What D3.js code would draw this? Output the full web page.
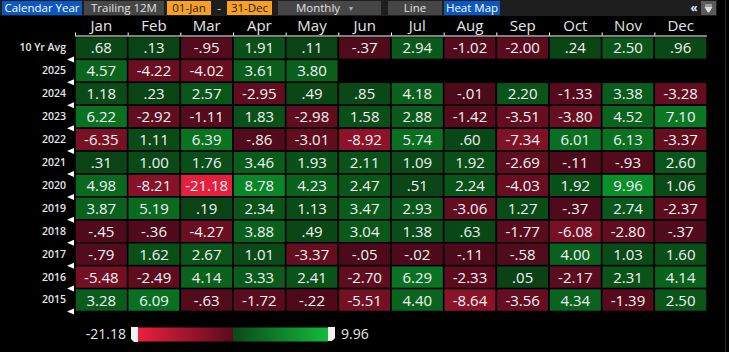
<!DOCTYPE html>
<html lang="en">
<head>
    <meta charset="UTF-8" />
    <title>Heat Map</title>
    <script src="https://d3js.org/d3.v7.min.js"></script>
    <style>
        body { margin: 0; background: #000; }
        svg { display: block; }
        text { font-family: "Open Sans", sans-serif; }
    </style>
</head>
<body>
    <div id="chart"></div>
    <script>
        var w = 729;
        var h = 352;

        var months = ["Jan", "Feb", "Mar", "Apr", "May", "Jun", "Jul", "Aug", "Sep", "Oct", "Nov", "Dec"];
        var rowLabels = ["10 Yr Avg", "2025", "2024", "2023", "2022", "2021", "2020", "2019", "2018", "2017", "2016", "2015"];

        var avg10 = [0.68, 0.13, -0.95, 1.91, 0.11, -0.37, 2.94, -1.02, -2.00, 0.24, 2.50, 0.96];
        var y2025 = [4.57, -4.22, -4.02, 3.61, 3.80];
        var y2024 = [1.18, 0.23, 2.57, -2.95, 0.49, 0.85, 4.18, -0.01, 2.20, -1.33, 3.38, -3.28];
        var y2023 = [6.22, -2.92, -1.11, 1.83, -2.98, 1.58, 2.88, -1.42, -3.51, -3.80, 4.52, 7.10];
        var y2022 = [-6.35, 1.11, 6.39, -0.86, -3.01, -8.92, 5.74, 0.60, -7.34, 6.01, 6.13, -3.37];
        var y2021 = [0.31, 1.00, 1.76, 3.46, 1.93, 2.11, 1.09, 1.92, -2.69, -0.11, -0.93, 2.60];
        var y2020 = [4.98, -8.21, -21.18, 8.78, 4.23, 2.47, 0.51, 2.24, -4.03, 1.92, 9.96, 1.06];
        var y2019 = [3.87, 5.19, 0.19, 2.34, 1.13, 3.47, 2.93, -3.06, 1.27, -0.37, 2.74, -2.37];
        var y2018 = [-0.45, -0.36, -4.27, 3.88, 0.49, 3.04, 1.38, 0.63, -1.77, -6.08, -2.80, -0.37];
        var y2017 = [-0.79, 1.62, 2.67, 1.01, -3.37, -0.05, -0.02, -0.11, -0.58, 4.00, 1.03, 1.60];
        var y2016 = [-5.48, -2.49, 4.14, 3.33, 2.41, -2.70, 6.29, -2.33, 0.05, -2.17, 2.31, 4.14];
        var y2015 = [3.28, 6.09, -0.63, -1.72, -0.22, -5.51, 4.40, -8.64, -3.56, 4.34, -1.39, 2.50];

        var rows = [avg10, y2025, y2024, y2023, y2022, y2021, y2020, y2019, y2018, y2017, y2016, y2015];

        var svg = d3.select("#chart")
            .append("svg")
            .attr("width", w)
            .attr("height", h);

        // toolbar across the top
        function button(x, width, label, fill, color) {
            svg.append("rect")
                .attr("x", x).attr("y", 1)
                .attr("width", width).attr("height", 14)
                .attr("fill", fill);
            svg.append("text")
                .attr("x", x + width / 2).attr("y", 11.5)
                .attr("text-anchor", "middle")
                .attr("fill", color)
                .style("font-size", "11.5px")
                .text(label);
        }

        svg.append("rect")
            .attr("x", 0).attr("y", 0)
            .attr("width", 717).attr("height", 16)
            .attr("fill", "#1e1e1e");
        button(2, 80, "Calendar Year", "#0b58c4", "#ffffff");
        button(84, 80, "Trailing 12M", "#464646", "#e0e0e0");
        button(167, 44, "01-Jan", "#f7a021", "#1a1a1a");
        svg.append("text").attr("x", 219).attr("y", 11.5).attr("text-anchor", "middle")
            .attr("fill", "#e0e0e0").style("font-size", "11.5px").text("-");
        button(227, 45, "31-Dec", "#f7a021", "#1a1a1a");
        button(278, 103, "", "#464646", "#e0e0e0");
        svg.append("text").attr("x", 318).attr("y", 11.5).attr("text-anchor", "middle")
            .attr("fill", "#e0e0e0").style("font-size", "11.5px").text("Monthly");
        svg.append("text").attr("x", 351).attr("y", 11).attr("text-anchor", "middle")
            .attr("fill", "#aaaaaa").style("font-size", "7px").text("\u25BC");
        button(388, 54, "Line", "#464646", "#e0e0e0");
        button(444, 56, "Heat Map", "#0b58c4", "#ffffff");
        svg.append("text").attr("x", 694).attr("y", 11.5).attr("text-anchor", "middle")
            .attr("fill", "#dfe8ff").style("font-size", "11.5px").style("font-weight", "bold").text("\u00AB");
        svg.append("rect").attr("x", 701).attr("y", 1).attr("width", 15).attr("height", 14).attr("fill", "#5a5a5a");
        svg.append("path").attr("d", "M705,5 h7 M705,7 h7 L709,12 L708,12 Z").attr("stroke", "#dddddd").attr("fill", "#dddddd");
        svg.append("line").attr("x1", 725.5).attr("x2", 725.5).attr("y1", 0).attr("y2", h)
            .attr("stroke", "#2a2a2a");

        // grid
        var gridLeft = 75, gridRight = 707, gridTop = 36.5, gridBottom = 311.5;

        var xScale = d3.scaleBand()
            .domain(months)
            .range([gridLeft, gridRight]);

        var yScale = d3.scaleBand()
            .domain(rowLabels)
            .range([gridTop, gridBottom]);

        var negColor = d3.scaleLinear()
            .domain([0, -21.18])
            .range(["#4c0a1b", "#e3203d"]);
        var posColor = d3.scaleLinear()
            .domain([0, 9.96])
            .range(["#0a4215", "#0a8e29"]);

        function fmt(v) {
            var s = d3.format(".2f")(Math.abs(v)).replace(/^0\./, ".");
            return (v < 0 ? "-" : "") + s;
        }

        var cells = [];
        rows.forEach(function (vals, r) {
            vals.forEach(function (v, c) {
                cells.push({ row: rowLabels[r], month: months[c], value: v });
            });
        });

        svg.selectAll("rect.cell")
            .data(cells)
            .enter()
            .append("rect")
            .attr("class", "cell")
            .attr("x", function (d) { return xScale(d.month); })
            .attr("y", function (d) { return yScale(d.row); })
            .attr("width", xScale.bandwidth())
            .attr("height", yScale.bandwidth())
            .attr("fill", function (d) { return d.value < 0 ? negColor(d.value) : posColor(d.value); })
            .attr("stroke", "#000")
            .attr("stroke-width", 1.5);

        svg.selectAll("text.val")
            .data(cells)
            .enter()
            .append("text")
            .attr("class", "val")
            .attr("x", function (d) { return xScale(d.month) + xScale.bandwidth() / 2; })
            .attr("y", function (d) { return yScale(d.row) + yScale.bandwidth() / 2 + 5.5; })
            .attr("text-anchor", "middle")
            .attr("fill", "#f2f2f2")
            .style("font-size", "15px")
            .text(function (d) { return fmt(d.value); });

        // month axis on top
        var xAxis = d3.axisTop(xScale).tickSize(0).tickPadding(5);
        var gx = svg.append("g")
            .attr("transform", "translate(0," + (gridTop - 1) + ")")
            .call(xAxis);
        gx.select(".domain").attr("stroke", "#ffffff").attr("d", "M" + gridLeft + ",0.5H" + gridRight);
        gx.selectAll("text").attr("fill", "#e6e6e6").style("font-size", "15px")
            .style("font-family", "'Open Sans', sans-serif");

        gx.selectAll("line.edge")
            .data(months)
            .enter()
            .append("line")
            .attr("class", "edge")
            .attr("x1", function (d) { return xScale(d) + 0.5; })
            .attr("x2", function (d) { return xScale(d) + 0.5; })
            .attr("y1", -3)
            .attr("y2", 0)
            .attr("stroke", "#ffffff");

        // row labels on the left
        var yAxis = d3.axisLeft(yScale).tickSize(0).tickPadding(9);
        var gy = svg.append("g")
            .attr("transform", "translate(" + gridLeft + ",0)")
            .call(yAxis);
        gy.select(".domain").remove();
        gy.selectAll("text").attr("fill", "#e6e6e6").style("font-size", "10.5px")
            .style("font-weight", "600")
            .style("font-family", "'Open Sans', sans-serif");

        gy.selectAll("path.marker")
            .data(rowLabels)
            .enter()
            .append("path")
            .attr("class", "marker")
            .attr("d", function (d) {
                var yy = yScale(d) + yScale.bandwidth();
                return "M-8," + yy + "L-1," + (yy - 3) + "L-1," + (yy + 3) + "Z";
            })
            .attr("fill", "#ffffff");

        // colour legend
        var legendScale = d3.scaleLinear()
            .domain([-21.18, 0, 9.96])
            .range([138, 233, 328]);

        var defs = svg.append("defs");
        var grad = defs.append("linearGradient").attr("id", "lg");
        grad.append("stop").attr("offset", "0%").attr("stop-color", "#ea203e");
        grad.append("stop").attr("offset", "50%").attr("stop-color", "#5c0a1e");
        grad.append("stop").attr("offset", "50%").attr("stop-color", "#0a4a18");
        grad.append("stop").attr("offset", "100%").attr("stop-color", "#14ba3c");

        svg.append("rect")
            .attr("x", legendScale(-21.18)).attr("y", 327.5)
            .attr("width", legendScale(9.96) - legendScale(-21.18)).attr("height", 14)
            .attr("fill", "url(#lg)");

        svg.append("path")
            .attr("d", "M" + (legendScale(-21.18) - 7) + ",327 h7 v15 h-4 l-3,-3 Z")
            .attr("fill", "#f2f2f2");
        svg.append("path")
            .attr("d", "M" + legendScale(9.96) + ",327 h7 v11 l-3,3 h-4 Z")
            .attr("fill", "#f2f2f2");

        svg.append("text")
            .attr("x", legendScale(-21.18) - 12).attr("y", 339)
            .attr("text-anchor", "end")
            .attr("fill", "#e6e6e6")
            .style("font-size", "14px")
            .text(fmt(-21.18));
        svg.append("text")
            .attr("x", legendScale(9.96) + 13).attr("y", 339)
            .attr("fill", "#e6e6e6")
            .style("font-size", "14px")
            .text(fmt(9.96));
    </script>
</body>
</html>
